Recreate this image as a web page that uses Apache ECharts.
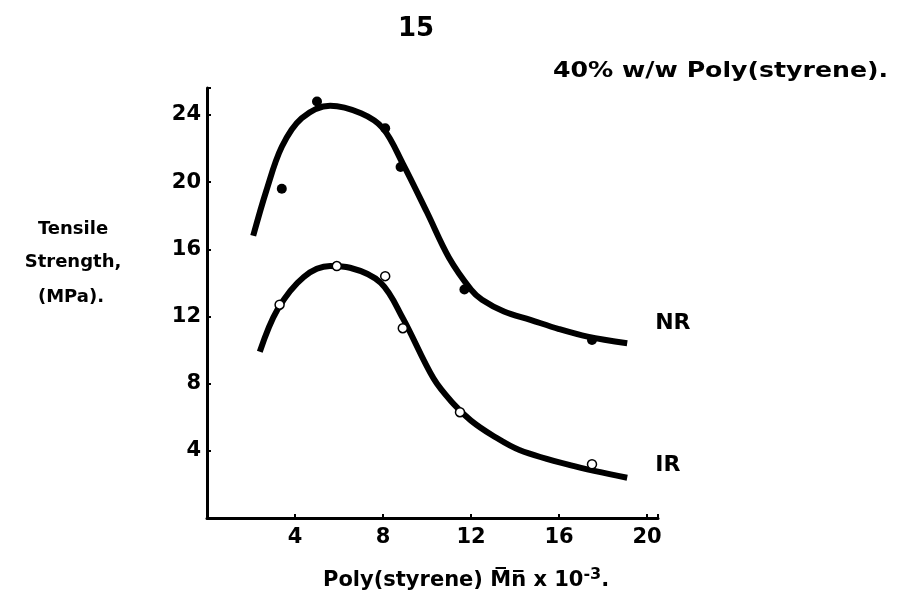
<!DOCTYPE html>
<html>
<head>
<meta charset="utf-8">
<script src="https://cdn.jsdelivr.net/npm/echarts@6/dist/echarts.min.js"></script>
<style>
html,body{margin:0;padding:0;background:#fff;}
#chart{width:899px;height:606px;}
</style>
</head>
<body>
<div id="chart"></div>
<script>
// Data (x = Poly(styrene) Mn x 10^-3, y = MPa)
const xTicks = [4, 8, 12, 16, 20];
const yTicks = [4, 8, 12, 16, 20, 24];
const nrPoints = [[3.4,19.6],[5.0,24.8],[8.1,23.2],[8.8,20.9],[11.7,13.6],[17.5,10.6]];
const irPoints = [[3.3,12.7],[5.9,15.0],[8.1,14.4],[8.9,11.3],[11.5,6.3],[17.5,3.2]];
const nrCurve = [[2.1,16.8],[2.7,19.5],[3.4,22.1],[4.3,23.8],[5.6,24.55],[7.0,24.1],[8.0,23.2],[8.9,21.1],[10.0,18.2],[11.0,15.5],[12.0,13.6],[12.5,13.0],[13.5,12.3],[14.7,11.8],[16.0,11.25],[17.3,10.8],[19.1,10.4]];
const irCurve = [[2.4,9.9],[3.2,12.4],[4.4,14.35],[5.6,15.0],[6.5,14.9],[7.9,14.0],[8.9,11.9],[10.3,8.3],[11.2,6.8],[12.0,5.8],[13.0,4.9],[14.2,4.05],[16.5,3.15],[19.1,2.4]];
const curveNames = ['NR', 'IR'];

const FONT = 'DejaVu Sans';
const chart = echarts.init(document.getElementById('chart'));
chart.setOption({
  animation: false,
  backgroundColor: '#fff',
  grid: {left: 207, top: 88, width: 451, height: 430, containLabel: false},
  xAxis: {
    type: 'value', min: 0, max: 20.5, interval: 4,
    axisLine: {lineStyle: {color: '#000', width: 3}},
    axisTick: {show: true, inside: true, length: 4, lineStyle: {color: '#000', width: 2}},
    splitLine: {show: false},
    axisLabel: {
      color: '#000', fontFamily: FONT, fontWeight: 'bold', fontSize: 21, margin: 9,
      formatter: v => xTicks.includes(v) ? String(v) : ''
    }
  },
  yAxis: {
    type: 'value', min: 0, max: 25.6, interval: 4,
    axisLine: {show: true, lineStyle: {color: '#000', width: 3}},
    axisTick: {show: true, inside: true, length: 4, lineStyle: {color: '#000', width: 2}},
    splitLine: {show: false},
    axisLabel: {
      color: '#000', fontFamily: FONT, fontWeight: 'bold', fontSize: 21, margin: 6,
      formatter: v => yTicks.includes(v) ? String(v) : ''
    }
  },
  series: [
    {type: 'line', name: curveNames[0], data: nrCurve, smooth: 0.35, showSymbol: false,
     lineStyle: {color: '#000', width: 6}, z: 2,
     endLabel: {show: true, formatter: curveNames[0], color: '#000', fontFamily: FONT, fontWeight: 'bold', fontSize: 22, offset: [20, -20]}},
    {type: 'line', name: curveNames[1], data: irCurve, smooth: 0.35, showSymbol: false,
     lineStyle: {color: '#000', width: 6}, z: 2,
     endLabel: {show: true, formatter: curveNames[1], color: '#000', fontFamily: FONT, fontWeight: 'bold', fontSize: 22, offset: [20, -12]}},
    {type: 'scatter', data: nrPoints, symbol: 'circle', symbolSize: 10,
     itemStyle: {color: '#000', opacity: 1}, z: 3},
    {type: 'scatter', data: irPoints, symbol: 'circle', symbolSize: 9,
     itemStyle: {color: '#fff', borderColor: '#000', borderWidth: 1.5, opacity: 1}, z: 3}
  ],
  graphic: [
    {type: 'text', x: 553, y: 61, scaleX: 1.2, style: {text: '40% w/w Poly(styrene).', font: 'bold 21px "DejaVu Sans"', fill: '#000'}},
    {type: 'text', left: 398, top: 16, style: {text: '15', font: 'bold 26px "DejaVu Sans"', fill: '#000'}},
    {type: 'text', x: 73, y: 229, style: {text: 'Tensile', font: 'bold 18px "DejaVu Sans"', fill: '#000', align: 'center', verticalAlign: 'middle'}},
    {type: 'text', x: 73, y: 262, style: {text: 'Strength,', font: 'bold 18px "DejaVu Sans"', fill: '#000', align: 'center', verticalAlign: 'middle'}},
    {type: 'text', x: 71, y: 297, style: {text: '(MPa).', font: 'bold 18px "DejaVu Sans"', fill: '#000', align: 'center', verticalAlign: 'middle'}},
    {type: 'text', left: 323, top: 567, style: {
      text: '{a|Poly(styrene) }{b|M\u0305n\u0305}{a| x 10}{s|-3}{a|.}',
      rich: {
        a: {font: 'bold 21px "DejaVu Sans"', fill: '#000', color: '#000'},
        b: {font: 'bold 21px "DejaVu Sans"', fill: '#000', color: '#000'},
        s: {font: 'bold 16px "DejaVu Sans"', fill: '#000', color: '#000', verticalAlign: 'top', padding: [0,0,12,0]}
      }
    }}
  ]
});
</script>
</body>
</html>
